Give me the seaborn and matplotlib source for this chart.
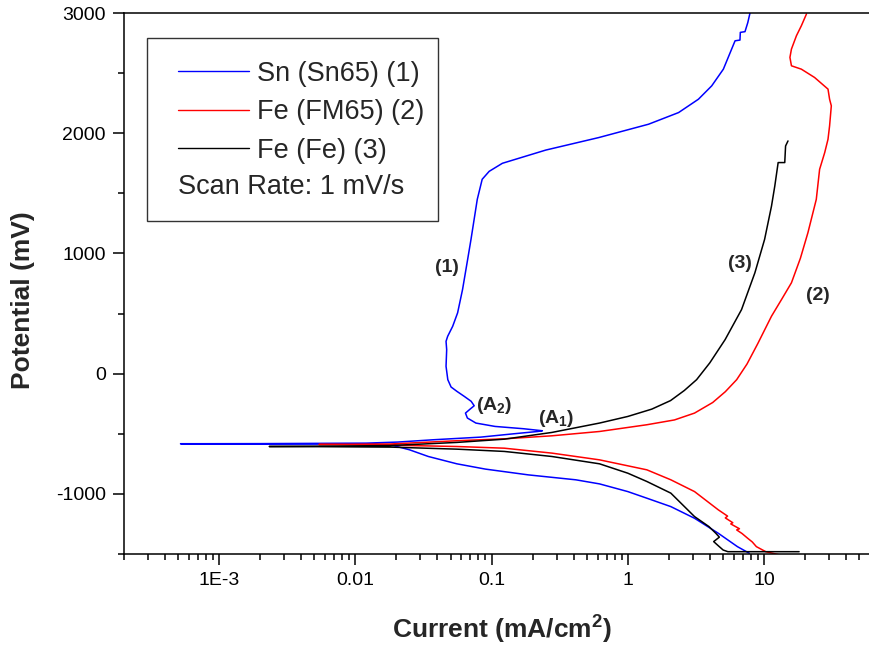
import numpy as np
import matplotlib
matplotlib.use('Agg')
import matplotlib.pyplot as plt
from matplotlib.patches import Rectangle
from matplotlib.ticker import LogLocator, FixedLocator, FixedFormatter, NullFormatter, MultipleLocator
import pandas as pd
import seaborn as sns

# Sn (Sn65) (1) - blue
sn_current = [7.8, 6.38, 4.62, 3.09, 2.07, 1.38, 1.0, 0.62, 0.415, 0.186, 0.0901, 0.0556,
              0.0343, 0.0249, 0.0181, 0.012, 0.002, 0.00052, 0.002, 0.012, 0.0205, 0.0372,
              0.083, 0.146, 0.218, 0.236, 0.171, 0.106, 0.0767, 0.0664, 0.0643, 0.0697,
              0.0745, 0.0708, 0.063, 0.0556, 0.0504, 0.0477, 0.0463, 0.0468, 0.0463, 0.0476,
              0.0518, 0.0563, 0.0612, 0.0667, 0.0706, 0.0785, 0.0853, 0.096, 0.12, 0.25,
              0.612, 1.42, 2.36, 3.30, 4.13, 5.03, 6.13, 6.66, 6.7, 7.25, 7.6, 7.89]
sn_potential = [-1494, -1439, -1328, -1203, -1106, -1036, -981, -917, -883, -842, -794, -750,
                -689, -633, -592, -586, -584, -583, -582, -578, -569, -550,
                -528, -500, -481, -475, -458, -439, -411, -369, -328, -294,
                -267, -230, -189, -147, -111, -50, 61, 200, 269, 311,
                394, 506, 700, 950, 1117, 1450, 1617, 1683, 1750, 1860,
                1964, 2075, 2172, 2283, 2394, 2533, 2769, 2775, 2839, 2845, 2920, 3000]

# Fe (FM65) (2) - red
fm_current = [13.1, 10.3, 8.79, 8.2, 7.6, 6.9, 6.3, 6.6, 5.7, 5.9, 5.2, 5.4, 4.62, 3.09, 2.07,
              1.38, 0.62, 0.277, 0.124, 0.0556, 0.0181, 0.0054, 0.0181, 0.0556, 0.124,
              0.277, 0.62, 1.38, 2.2, 3.09, 4.2, 5.2, 6.3, 7.5, 9.0, 11.35, 13.5, 15.9,
              18.5, 21.0, 24.2, 25.6, 27.9, 29.5, 30.3, 31.2, 30.3, 29.5, 23.5, 18.8,
              15.9, 15.5, 15.9, 17.3, 18.8, 20.5]
fm_potential = [-1508, -1481, -1439, -1400, -1370, -1330, -1300, -1290, -1250, -1240, -1200,
                -1185, -1133, -981, -883, -800, -717, -661, -620, -606, -595, -589, -585,
                -558, -542, -517, -481, -425, -385, -328, -240, -150, -50, 80, 250, 478,
                620, 756, 960, 1172, 1450, 1700, 1839, 1950, 2061, 2228, 2283, 2367,
                2464, 2533, 2561, 2631, 2700, 2811, 2894, 2992]

# Fe (Fe) (3) - black
fe_current = [18.1, 5.43, 5.01, 4.6, 4.27, 4.7, 4.43, 3.94, 3.09, 2.07, 1.38, 1.0, 0.62,
              0.277, 0.124, 0.0556, 0.0181, 0.005, 0.00233, 0.005, 0.0181, 0.0556, 0.124,
              0.277, 0.62, 1.0, 1.5, 2.06, 2.6, 3.2, 4.0, 5.18, 6.84, 8.57, 10.1, 11.35,
              12.0, 12.7, 14.2, 14.4, 15.0]
fe_potential = [-1481, -1481, -1467, -1430, -1397, -1360, -1328, -1272, -1189, -994, -897,
                -828, -750, -689, -647, -628, -611, -607, -606, -604, -598, -572, -545,
                -489, -411, -356, -295, -224, -140, -50, 90, 283, 533, 839, 1117, 1394,
                1561, 1756, 1756, 1894, 1936]

x_ticks = [1e-3, 1e-2, 1e-1, 1, 10]
x_tick_labels = ['1E-3', '0.01', '0.1', '1', '10']

sns.set_style('ticks')
plt.rcParams['font.family'] = ['Liberation Sans', 'DejaVu Sans']
plt.rcParams['axes.unicode_minus'] = False
plt.rcParams['mathtext.fontset'] = 'custom'
plt.rcParams['mathtext.rm'] = 'Liberation Sans'
plt.rcParams['mathtext.bf'] = 'Liberation Sans:bold'
plt.rcParams['mathtext.default'] = 'bf'

fig = plt.figure(figsize=(8.7, 6.48), dpi=100)
ax = fig.add_axes([0.1425, 0.1451, 0.8575, 0.8348])

series = [
    (sn_current, sn_potential, 'blue', 'Sn (Sn65) (1)'),
    (fm_current, fm_potential, 'red', 'Fe (FM65) (2)'),
    (fe_current, fe_potential, 'black', 'Fe (Fe) (3)'),
]
for cur, pot, col, lab in series:
    df = pd.DataFrame({'current': cur, 'potential': pot})
    sns.lineplot(data=df, x='current', y='potential', sort=False, estimator=None,
                 color=col, lw=1.1, label=lab, ax=ax)

ax.set_xscale('log')
ax.set_xlim(2e-4, 60)
ax.set_ylim(-1500, 3000)

ax.xaxis.set_major_locator(FixedLocator(x_ticks))
ax.xaxis.set_major_formatter(FixedFormatter(x_tick_labels))
ax.xaxis.set_minor_locator(LogLocator(base=10, subs=np.arange(2, 10)))
ax.xaxis.set_minor_formatter(NullFormatter())
ax.yaxis.set_major_locator(FixedLocator([-1000, 0, 1000, 2000, 3000]))
ax.yaxis.set_minor_locator(MultipleLocator(500))

ax.tick_params(which='major', direction='out', length=8, width=1.1, labelsize=14, pad=5,
               color='black', labelcolor='black')
ax.tick_params(which='minor', direction='out', length=4.5, width=1.1, color='black')
for s in ['left', 'bottom', 'top']:
    ax.spines[s].set_linewidth(1.1)
    ax.spines[s].set_color('black')
ax.spines['right'].set_visible(False)

ax.set_xlabel('Current (mA/cm$^2$)', fontsize=19, fontweight='bold')
ax.set_ylabel('Potential (mV)', fontsize=19, fontweight='bold')
ax.xaxis.set_label_coords(0.507, -0.11)
ax.yaxis.set_label_coords(-0.119, 0.47)

# annotations
ax.text(0.0473, 883, '(1)', fontsize=14, fontweight='bold', ha='center', va='center')
ax.text(24.7, 650, '(2)', fontsize=14, fontweight='bold', ha='center', va='center')
ax.text(6.67, 917, '(3)', fontsize=14, fontweight='bold', ha='center', va='center')
ax.text(0.1045, -268, '(A$_2$)', fontsize=14, fontweight='bold', ha='center', va='center')
ax.text(0.297, -372, '(A$_1$)', fontsize=14, fontweight='bold', ha='center', va='center')

# legend
leg = ax.legend(loc='upper left', bbox_to_anchor=(0.0727, 0.912), frameon=False,
                fontsize=19.5, handlelength=2.6, handletextpad=0.3, labelspacing=0.46,
                borderpad=0, borderaxespad=0)
for h in leg.get_lines():
    h.set_linewidth(1.0)
ax.text(0.0727, 0.679, 'Scan Rate: 1 mV/s', fontsize=19.5, va='center', ha='left',
        transform=ax.transAxes)
ax.add_patch(Rectangle((0.0304, 0.616), 0.39, 0.337, transform=ax.transAxes, fill=False,
                       lw=1.0, ec='#333333'))

fig.savefig('out.png', dpi=100)
